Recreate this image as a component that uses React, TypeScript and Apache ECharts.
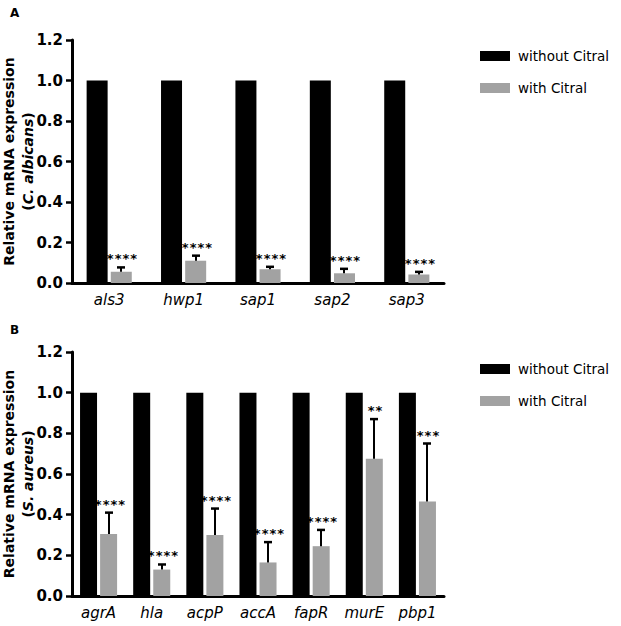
import React, { useEffect, useRef } from 'react';
import * as echarts from 'echarts';

// Panel A – C. albicans
const genesA = ['als3', 'hwp1', 'sap1', 'sap2', 'sap3'];
const withoutA = [1, 1, 1, 1, 1];
const withA = [0.055, 0.11, 0.068, 0.048, 0.042];
const errTopA = [0.077, 0.135, 0.08, 0.07, 0.055];
const starsA = ['****', '****', '****', '****', '****'];

// Panel B – S. aureus
const genesB = ['agrA', 'hla', 'acpP', 'accA', 'fapR', 'murE', 'pbp1'];
const withoutB = [1, 1, 1, 1, 1, 1, 1];
const withB = [0.305, 0.13, 0.3, 0.165, 0.245, 0.675, 0.465];
const errTopB = [0.41, 0.155, 0.43, 0.265, 0.325, 0.87, 0.75];
const starsB = ['****', '****', '****', '****', '****', '**', '***'];

const seriesNames = ['without Citral', 'with Citral'];
const yMin = 0;
const yMax = 1.2;
const yStep = 0.2;

const FONT = 'DejaVu Sans';
const GRAY = '#a2a2a2';

function makeErr(offset: number, stars: string[]) {
  return (params: any, api: any) => {
    const x = api.value(0);
    const m = api.value(1);
    const t = api.value(2);
    const p0 = api.coord([x, m]);
    const p1 = api.coord([x, t]);
    const cx = Math.round(p0[0] + offset);
    return {
      type: 'group',
      children: [
        { type: 'line', shape: { x1: cx, y1: p0[1], x2: cx, y2: p1[1] }, style: { stroke: '#000', lineWidth: 2 } },
        { type: 'line', shape: { x1: cx - 4, y1: p1[1], x2: cx + 4, y2: p1[1] }, style: { stroke: '#000', lineWidth: 2.5 } },
        {
          type: 'text',
          x: cx + 1,
          y: Math.round(p1[1] - 9),
          style: {
            text: stars[params.dataIndex],
            fontFamily: 'DejaVu Sans Mono',
            fontWeight: 'bold',
            fontSize: 13,
            fill: '#000',
            align: 'center',
            verticalAlign: 'middle',
          },
        },
      ],
    };
  };
}

function xAxisCfg(data: string[], gridIndex: number) {
  return {
    type: 'category',
    gridIndex,
    data,
    axisLine: { lineStyle: { color: '#000', width: 3 } },
    axisTick: { alignWithLabel: true, length: 6, lineStyle: { color: '#000', width: 3 } },
    axisLabel: { interval: 0, fontFamily: FONT, fontStyle: 'italic', fontSize: 15, color: '#000', margin: 9 },
  };
}

function yAxisCfg(gridIndex: number, species: string) {
  return {
    type: 'value',
    gridIndex,
    min: yMin,
    max: yMax,
    interval: yStep,
    name: 'Relative mRNA expression\n({i|' + species + '})',
    nameLocation: 'middle',
    nameGap: 35,
    nameMoveOverlap: false,
    nameTextStyle: {
      fontFamily: FONT,
      fontWeight: 'bold',
      fontSize: 14,
      lineHeight: 19,
      color: '#000',
      rich: { i: { fontFamily: FONT, fontWeight: 'bold', fontStyle: 'italic', fontSize: 14, lineHeight: 19, color: '#000' } },
    },
    splitLine: { show: false },
    axisLine: { show: true, lineStyle: { color: '#000', width: 3 } },
    axisTick: { show: true, length: 6, lineStyle: { color: '#000', width: 2.5 } },
    axisLabel: {
      fontFamily: FONT,
      fontWeight: 'bold',
      fontSize: 15,
      color: '#000',
      margin: 9,
      formatter: (v: number) => v.toFixed(1),
    },
  };
}

export default function App() {
  const ref = useRef<HTMLDivElement>(null);
  useEffect(() => {
    if (!ref.current) return;
    const chart = echarts.init(ref.current, null, { renderer: 'svg' });
    const legendBase = {
      data: seriesNames,
      orient: 'vertical',
      itemWidth: 30,
      itemHeight: 10,
      itemGap: 18,
      selectedMode: false,
      icon: 'rect',
      textStyle: { fontFamily: FONT, fontSize: 13.5, color: '#000', padding: [0, 0, 0, 3] },
    };
    chart.setOption({
      animation: false,
      backgroundColor: '#fff',
      title: [
        { text: 'A', left: 5, top: 2, textStyle: { fontFamily: FONT, fontWeight: 'bold', fontSize: 12, color: '#000' } },
        { text: 'B', left: 5, top: 319, textStyle: { fontFamily: FONT, fontWeight: 'bold', fontSize: 12, color: '#000' } },
      ],
      legend: [
        { ...legendBase, left: 475, top: 44 },
        { ...legendBase, left: 475, top: 357 },
      ],
      grid: [
        { left: 72, top: 40, width: 372, height: 243, outerBoundsMode: 'none', containLabel: false },
        { left: 72, top: 352, width: 372, height: 244, outerBoundsMode: 'none', containLabel: false },
      ],
      xAxis: [xAxisCfg(genesA, 0), xAxisCfg(genesB, 1)],
      yAxis: [yAxisCfg(0, 'C. albicans'), yAxisCfg(1, 'S. aureus')],
      series: [
        {
          name: seriesNames[0], type: 'bar', xAxisIndex: 0, yAxisIndex: 0,
          data: withoutA, barWidth: 21, barGap: '15%', itemStyle: { color: '#000' },
        },
        {
          name: seriesNames[1], type: 'bar', xAxisIndex: 0, yAxisIndex: 0,
          data: withA, barWidth: 21, barGap: '15%', itemStyle: { color: GRAY },
        },
        {
          type: 'custom', xAxisIndex: 0, yAxisIndex: 0, z: 5,
          itemStyle: { color: '#000' },
          data: genesA.map((_, i) => [i, withA[i], errTopA[i]]),
          encode: { x: 0, y: [1, 2] },
          renderItem: makeErr(12, starsA),
        },
        {
          name: seriesNames[0], type: 'bar', xAxisIndex: 1, yAxisIndex: 1,
          data: withoutB, barWidth: 17, barGap: '18%', itemStyle: { color: '#000' },
        },
        {
          name: seriesNames[1], type: 'bar', xAxisIndex: 1, yAxisIndex: 1,
          data: withB, barWidth: 17, barGap: '18%', itemStyle: { color: GRAY },
        },
        {
          type: 'custom', xAxisIndex: 1, yAxisIndex: 1, z: 5,
          itemStyle: { color: '#000' },
          data: genesB.map((_, i) => [i, withB[i], errTopB[i]]),
          encode: { x: 0, y: [1, 2] },
          renderItem: makeErr(10, starsB),
        },
      ],
    });
    return () => chart.dispose();
  }, []);
  return <div ref={ref} style={{ position: 'fixed', left: 0, top: 0, width: 621, height: 626, background: '#fff' }} />;
}
